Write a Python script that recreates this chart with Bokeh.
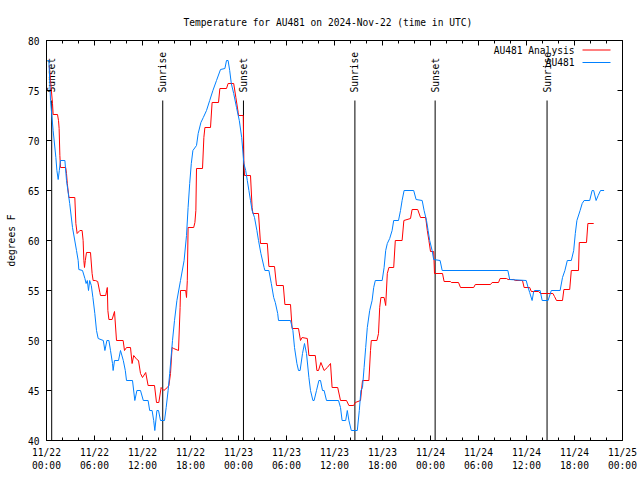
from bokeh.plotting import figure
from bokeh.models import Range1d, FixedTicker, LinearAxis, Title
from bokeh.core.properties import value
from bokeh.embed import file_html
from bokeh.resources import INLINE
import numpy as np

# ---- data (hours since 2024-11-22 00:00 UTC, degrees F) ----
obs_hours = [0.1, 0.3, 0.5, 0.83, 1.17, 1.3, 1.46, 1.6, 1.75, 2.3, 2.5, 2.9, 3.25, 3.75, 3.96, 4.04, 4.5,
             4.8, 4.95, 5.1, 5.25, 5.4, 5.6, 5.8, 6.04, 6.25, 6.46, 7.1, 7.3, 7.55, 7.8, 8.0, 8.25, 8.33,
             8.5, 9.0, 9.25, 9.6, 9.85, 10.0, 10.75, 11.04, 11.3, 11.75, 12.1, 12.7, 12.9, 13.2, 13.4,
             13.54, 13.8, 14.0, 14.25, 14.75, 14.96, 15.2, 15.4, 15.75, 16.0, 16.3, 16.75, 17.2, 17.5,
             17.7, 17.9, 18.1, 18.3, 18.75, 18.96, 19.3, 19.6, 20.0, 20.4, 20.8, 21.25, 21.75, 22.3,
             22.5, 22.7, 22.9, 23.1, 23.4, 23.75, 24.1, 24.4, 24.67, 24.9, 25.1, 25.3, 25.5, 25.7,
             26.0, 26.3, 26.5, 26.8, 27.2, 27.3, 27.8, 28.1, 28.4, 28.6, 28.9, 29.0, 30.5, 30.8, 31.0,
             31.3, 31.5, 31.7, 32.0, 32.25, 32.5, 32.8, 33.0, 33.3, 33.45, 33.75, 34.05, 34.25, 34.5,
             34.7, 35.0, 36.5, 36.75, 36.95, 37.4, 37.6, 37.8, 38.1, 38.85, 39.1, 39.3, 39.5, 39.7,
             39.9, 40.1, 40.4, 40.7, 40.9, 41.1, 41.96, 42.2, 42.4, 42.6, 42.9, 43.2, 43.4, 44.0,
             44.25, 44.45, 44.7, 45.9, 46.2, 46.96, 47.2, 47.5, 47.7, 47.9, 48.2, 48.4, 49.2, 49.46,
             57.67, 57.9, 59.96, 60.2, 60.4, 60.7, 60.9, 61.0, 61.7, 61.96, 62.7, 63.1, 64.2, 64.5,
             64.8, 65.1, 65.6, 65.9, 66.1, 66.3, 66.7, 66.96, 67.2, 67.9, 68.2, 68.4, 68.7, 68.96,
             69.25, 69.7]
obs_temps = [78.0, 78.0, 74.0, 71.0, 68.3, 67.0, 66.1, 67.0, 68.0, 68.0, 66.0, 63.7, 61.3, 59.0, 58.0, 57.1, 57.0,
             56.2, 55.7, 56.0, 55.0, 56.0, 55.5, 54.3, 52.7, 51.0, 50.2, 50.0, 49.0, 50.0, 50.0, 49.0, 47.7, 47.0,
             48.0, 48.0, 49.0, 48.0, 47.0, 46.0, 46.0, 44.0, 45.0, 45.0, 44.0, 44.0, 43.0, 43.0, 42.0,
             41.0, 43.0, 43.0, 42.0, 42.0, 43.3, 45.0, 46.7, 50.0, 52.0, 54.0, 56.0, 58.0, 60.5,
             63.3, 65.7, 67.7, 69.0, 69.5, 70.7, 71.8, 72.3, 73.0, 74.0, 75.0, 76.0, 77.1, 77.2,
             78.0, 78.0, 77.0, 75.7, 74.7, 73.3, 72.0, 70.3, 67.7, 67.0, 66.0, 65.0, 64.0, 63.0,
             62.3, 61.0, 60.0, 58.7, 57.3, 57.0, 57.0, 55.7, 54.3, 53.8, 52.7, 52.0, 52.0, 51.0, 49.3,
             47.7, 47.0, 47.0, 48.7, 49.7, 48.7, 46.3, 45.0, 44.0, 44.0, 45.0, 46.0, 46.0, 45.0,
             45.0, 44.0, 44.0, 43.3, 42.0, 42.0, 43.0, 42.0, 41.0, 41.0, 43.0, 45.0, 45.3, 47.3,
             49.3, 51.3, 53.0, 54.0, 55.3, 56.0, 56.0, 57.3, 59.0, 59.7, 60.2, 61.0, 62.0, 62.0,
             63.0, 64.0, 65.0, 65.0, 64.1, 64.0, 63.0, 62.0, 61.0, 60.0, 59.0, 58.1, 58.0, 57.0,
             57.0, 56.1, 56.0, 55.3, 54.8, 54.0, 54.9, 55.0, 55.0, 54.0, 54.0, 55.0, 55.0, 56.3,
             57.0, 58.0, 58.0, 59.0, 60.7, 62.0, 63.0, 63.7, 64.0, 64.0, 65.0, 65.0, 64.0, 64.5,
             65.0, 65.0]

ana_hours = [0.35, 0.5, 0.75, 0.83, 1.375, 1.5, 1.58, 1.67, 1.75, 2.4, 2.5, 2.6, 2.8, 3.54, 3.67, 3.83,
             4.17, 4.45, 4.58, 4.67, 4.75, 4.85, 5.0, 5.5, 5.7, 5.83, 6.1, 6.4, 6.67, 6.75, 7.4, 7.6,
             7.67, 7.8, 8.2, 8.5, 8.75, 9.58, 9.75, 10.0, 10.5, 10.7, 10.9, 11.3, 11.5, 11.75, 12.0,
             12.4, 12.7, 13.5, 13.75, 14.04, 14.33, 14.67, 15.1, 15.3, 15.5, 15.7, 15.9, 16.5, 16.7,
             16.75, 17.4, 17.5, 17.6, 17.7, 18.4, 18.55, 18.67, 18.75, 19.5, 19.67, 19.8, 20.5, 20.7,
             21.5, 21.67, 22.5, 22.7, 23.4, 23.67, 23.96, 24.0, 24.6, 24.67, 24.75, 25.5, 25.7, 25.8,
             26.5, 26.75, 27.6, 27.8, 28.5, 28.75, 29.6, 29.8, 30.5, 30.7, 31.5, 31.75, 31.95, 32.6,
             32.8, 33.6, 33.8, 34.0, 34.3, 34.7, 35.1, 35.5, 35.7, 36.4, 36.75, 37.5, 37.8, 38.4,
             38.6, 39.25, 39.5, 40.3, 40.5, 40.6, 41.3, 41.5, 41.65, 41.8, 42.2, 42.4, 42.6, 42.8,
             43.4, 43.6, 44.45, 44.67, 45.5, 45.7, 46.4, 46.75, 47.4, 47.6, 47.8, 48.0, 48.4, 48.5,
             49.5, 49.7, 50.5, 50.6, 51.5, 51.75, 53.4, 53.6, 55.5, 55.7, 56.5, 56.7, 57.5, 57.7,
             58.4, 58.6, 59.5, 59.7, 60.4, 60.6, 61.5, 61.75, 63.3, 63.5, 63.75, 64.5, 64.67, 65.4,
             65.6, 66.5, 66.6, 67.5, 67.67, 68.4]
ana_temps = [77.5, 76.0, 73.7, 72.6, 72.6, 72.0, 71.2, 68.5, 67.3, 67.3, 66.7, 65.7, 64.3, 64.3, 61.7, 60.7,
             61.0, 61.0, 60.0, 58.0, 57.3, 58.0, 58.8, 58.8, 56.7, 56.0, 56.0, 55.9, 54.8, 54.5, 54.5, 55.3,
             53.0, 52.1, 52.1, 52.9, 50.0, 50.0, 49.0, 49.3, 49.3, 47.7, 48.5, 48.1, 48.0, 46.7, 46.3,
             46.8, 45.5, 45.5, 43.8, 43.8, 45.3, 45.0, 45.3, 45.5, 46.7, 49.3, 49.2, 49.0, 53.3,
             55.0, 55.0, 54.3, 56.0, 61.3, 61.3, 61.8, 63.0, 67.2, 67.2, 70.3, 71.3, 71.3, 73.8,
             73.8, 75.2, 75.2, 75.7, 75.7, 74.3, 72.8, 72.5, 72.5, 68.0, 66.5, 66.5, 63.3, 62.7,
             62.7, 59.7, 59.7, 57.4, 57.4, 55.5, 55.5, 53.6, 53.6, 51.2, 51.2, 50.0, 50.3, 50.2,
             48.5, 48.5, 47.0, 47.0, 47.8, 47.0, 47.3, 47.7, 45.3, 45.3, 44.0, 44.0, 43.5, 43.5,
             43.8, 44.0, 46.0, 46.0, 49.0, 50.0, 50.0, 50.7, 53.3, 54.3, 54.3, 53.5, 56.7, 57.3,
             57.3, 60.0, 60.0, 62.0, 62.2, 63.1, 63.1, 62.3, 62.3, 61.0, 60.0, 58.9, 58.9, 56.7,
             56.7, 55.9, 55.9, 55.8, 55.8, 55.3, 55.3, 55.6, 55.6, 55.8, 55.8, 56.2, 56.2, 56.1,
             56.1, 56.0, 56.0, 55.3, 55.3, 54.9, 54.9, 54.7, 54.7, 54.4, 54.0, 54.0, 55.1, 55.1,
             57.0, 57.0, 59.8, 59.8, 61.7, 61.7]

sun_hours = [0.65, 14.53, 24.62, 38.55, 48.58, 62.57]
sun_names = ["Sunset", "Sunrise", "Sunset", "Sunrise", "Sunset", "Sunrise"]

tick_hours = [0, 6, 12, 18, 24, 30, 36, 42, 48, 54, 60, 66, 72]
tick_labels = ["11/22\n00:00", "11/22\n06:00", "11/22\n12:00", "11/22\n18:00",
               "11/23\n00:00", "11/23\n06:00", "11/23\n12:00", "11/23\n18:00",
               "11/24\n00:00", "11/24\n06:00", "11/24\n12:00", "11/24\n18:00",
               "11/25\n00:00"]
y_ticks = [40, 45, 50, 55, 60, 65, 70, 75, 80]

series_names = ["AU481 Analysis", "AU481"]
series_colors = ["#ff0000", "#0080ff"]

FONT = "DejaVu Sans Mono"
FS = "9.6px"

p = figure(width=640, height=480, output_backend="svg", toolbar_location=None,
           x_range=Range1d(0, 72), y_range=Range1d(40, 80),
           min_border_left=46, min_border_right=18, min_border_top=40, min_border_bottom=40,
           x_axis_location=None, y_axis_location=None)
p.grid.visible = False
p.outline_line_color = "black"
p.outline_line_width = 1
p.background_fill_color = "white"
p.border_fill_color = "white"

xt = FixedTicker(ticks=tick_hours, minor_ticks=list(range(0, 73, 2)))
yt = FixedTicker(ticks=y_ticks, minor_ticks=[])


def style_axis(ax, labels=True):
    ax.axis_line_color = None
    ax.major_tick_in = 5
    ax.major_tick_out = 0
    ax.minor_tick_in = 3
    ax.minor_tick_out = 0
    ax.major_tick_line_color = "black"
    ax.minor_tick_line_color = "black"
    ax.major_label_text_font = FONT
    ax.major_label_text_font_size = FS if labels else "0px"
    ax.major_label_text_color = "black" if labels else None


xb = LinearAxis(ticker=xt, major_label_overrides={h: l for h, l in zip(tick_hours, tick_labels)})
style_axis(xb)
xb.major_label_standoff = 6
p.add_layout(xb, "below")

xa = LinearAxis(ticker=xt)
style_axis(xa, labels=False)
p.add_layout(xa, "above")

yl = LinearAxis(ticker=yt, axis_label="degrees F")
style_axis(yl)
yl.major_label_standoff = 7
yl.axis_label_text_font = FONT
yl.axis_label_text_font_size = FS
yl.axis_label_text_font_style = "normal"
yl.axis_label_text_color = "black"
yl.axis_label_standoff = 8
p.add_layout(yl, "left")

yr = LinearAxis(ticker=yt)
style_axis(yr, labels=False)
p.add_layout(yr, "right")

t = Title(text="Temperature for AU481 on 2024-Nov-22 (time in UTC)", align="left",
          text_font=FONT, text_font_size=FS, text_font_style="normal", text_color="black",
          offset=137, standoff=26)
p.add_layout(t, "above")

# sunrise / sunset markers
p.segment(x0=sun_hours, y0=[40] * len(sun_hours), x1=sun_hours, y1=[74] * len(sun_hours),
          line_color="black", line_width=1)
p.text(x=sun_hours, y=[74.8] * len(sun_hours), text=sun_names, angle=np.pi / 2,
       text_align="left", text_baseline="middle", text_font=value(FONT), text_font_size=FS,
       text_color="black")

# series
p.line(ana_hours, ana_temps, line_color=series_colors[0], line_width=1)
p.line(obs_hours, obs_temps, line_color=series_colors[1], line_width=1)

# key (gnuplot style: text then line sample)
key_y = [79.05, 77.8]
p.text(x=[66.0, 66.0], y=key_y, text=series_names, text_align="right", text_baseline="middle",
       text_font=value(FONT), text_font_size=FS, text_color="black")
p.segment(x0=[67.0, 67.0], y0=key_y, x1=[70.5, 70.5], y1=key_y, line_color=series_colors, line_width=1)

open("out.html", "w").write(file_html(p, INLINE))
